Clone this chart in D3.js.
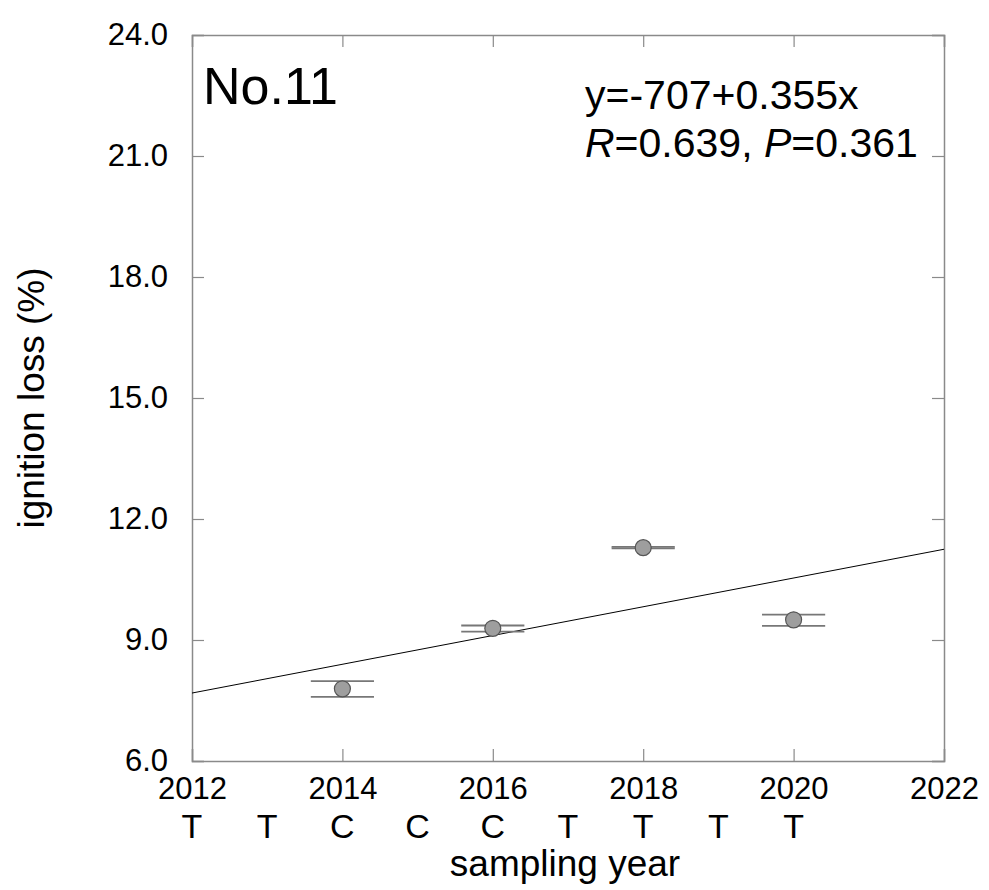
<!DOCTYPE html>
<html>
<head>
<meta charset="utf-8">
<script src="https://cdn.jsdelivr.net/npm/d3@7"></script>
<style>
  body { margin: 0; background: #fff; }
  svg { font-family: "Liberation Sans", Arial, sans-serif; }
</style>
</head>
<body>
<div id="chart"></div>
<script>
// data
var years = [2014, 2016, 2018, 2020];
var means = [7.79, 9.29, 11.29, 9.50];
var upper = [7.98, 9.36, 11.31, 9.63];
var lower = [7.59, 9.21, 11.27, 9.35];

var xTicks = [2012, 2014, 2016, 2018, 2020, 2022];
var yTicks = [6, 9, 12, 15, 18, 21, 24];

var treatYears = [2012, 2013, 2014, 2015, 2016, 2017, 2018, 2019, 2020];
var treatCodes = ["T", "T", "C", "C", "C", "T", "T", "T", "T"];

var panelLabel = "No.11";
var eqText = "y=-707+0.355x";
var rText = "0.639", pText = "0.361";

// set the dimensions and margins of the graph
var margin = {top: 35, right: 45, bottom: 129, left: 192},
    width = 989 - margin.left - margin.right,
    height = 890 - margin.top - margin.bottom;

var svg = d3.select("#chart")
  .append("svg")
  .attr("width", 989)
  .attr("height", 890)
  .append("g")
  .attr("transform", "translate(" + margin.left + "," + margin.top + ")");

var xScale = d3.scaleLinear().domain([2012, 2022]).range([0, width]);
var yScale = d3.scaleLinear().domain([6, 24]).range([height, 0]);

var frameColor = "#8a8a8a";

// axes with inward ticks on all four sides
var axBottom = svg.append("g")
  .attr("transform", "translate(0," + height + ")")
  .call(d3.axisBottom(xScale).tickValues(xTicks).tickSize(-12).tickPadding(16).tickFormat(d3.format("d")));
var axTop = svg.append("g")
  .call(d3.axisTop(xScale).tickValues(xTicks).tickSize(-12).tickFormat(""));
var axLeft = svg.append("g")
  .call(d3.axisLeft(yScale).tickValues(yTicks).tickSize(-12).tickPadding(24).tickFormat(d3.format(".1f")));
var axRight = svg.append("g")
  .attr("transform", "translate(" + width + ",0)")
  .call(d3.axisRight(yScale).tickValues(yTicks).tickSize(-12).tickFormat(""));

[axBottom, axTop, axLeft, axRight].forEach(function(g) {
  g.select(".domain").attr("stroke", frameColor).attr("stroke-width", 1.5);
  g.selectAll(".tick line").attr("stroke", frameColor).attr("stroke-width", 1.2);
  g.selectAll(".tick text").attr("fill", "#000").style("font-size", "31px");
});
axBottom.selectAll(".tick text").attr("dy", "0.71em");

// treatment letters under the axis
svg.selectAll(".code")
  .data(treatYears)
  .enter().append("text")
  .attr("class", "code")
  .attr("x", d => xScale(d))
  .attr("y", height + 77)
  .attr("text-anchor", "middle")
  .style("font-size", "34px")
  .text((d, i) => treatCodes[i]);

// regression line (least squares on the means)
var mx = d3.mean(years), my = d3.mean(means);
var slope = d3.sum(years, (d, i) => (d - mx) * (means[i] - my)) / d3.sum(years, d => (d - mx) * (d - mx));
var intercept = my - slope * mx;
svg.append("path")
  .datum([2012, 2022])
  .attr("fill", "none")
  .attr("stroke", "#000")
  .attr("stroke-width", 1)
  .attr("d", d3.line().x(d => xScale(d)).y(d => yScale(intercept + slope * d)));

// error bars
var capHalf = 0.42;
var pts = years.map((d, i) => ({year: d, mean: means[i], hi: upper[i], lo: lower[i]}));
var bars = svg.selectAll(".err").data(pts).enter().append("g").attr("class", "err");
bars.append("line")
  .attr("x1", d => xScale(d.year)).attr("x2", d => xScale(d.year))
  .attr("y1", d => yScale(d.hi)).attr("y2", d => yScale(d.lo))
  .attr("stroke", "#777").attr("stroke-width", 1.5);
bars.append("line")
  .attr("x1", d => xScale(d.year - capHalf)).attr("x2", d => xScale(d.year + capHalf))
  .attr("y1", d => yScale(d.hi)).attr("y2", d => yScale(d.hi))
  .attr("stroke", "#777").attr("stroke-width", 1.8);
bars.append("line")
  .attr("x1", d => xScale(d.year - capHalf)).attr("x2", d => xScale(d.year + capHalf))
  .attr("y1", d => yScale(d.lo)).attr("y2", d => yScale(d.lo))
  .attr("stroke", "#777").attr("stroke-width", 1.8);

// points
svg.selectAll(".pt")
  .data(pts)
  .enter().append("circle")
  .attr("class", "pt")
  .attr("cx", d => xScale(d.year))
  .attr("cy", d => yScale(d.mean))
  .attr("r", 8)
  .attr("fill", "#9e9e9e")
  .attr("stroke", "#555")
  .attr("stroke-width", 1.2);

// panel label
svg.append("text")
  .attr("x", 11)
  .attr("y", 69)
  .style("font-size", "52px")
  .text(panelLabel);

// regression text
svg.append("text")
  .attr("x", 393)
  .attr("y", 74)
  .style("font-size", "41px")
  .text(eqText);
var stat = svg.append("text")
  .attr("x", 393)
  .attr("y", 122)
  .style("font-size", "41px");
stat.append("tspan").attr("font-style", "italic").text("R");
stat.append("tspan").text("=" + rText + ", ");
stat.append("tspan").attr("font-style", "italic").text("P");
stat.append("tspan").text("=" + pText);

// axis titles
svg.append("text")
  .attr("text-anchor", "middle")
  .attr("x", width / 2 - 3)
  .attr("y", height + 115)
  .style("font-size", "37px")
  .text("sampling year");

svg.append("text")
  .attr("text-anchor", "middle")
  .attr("transform", "translate(" + (-148) + "," + (height / 2) + ") rotate(-90)")
  .style("font-size", "37px")
  .text("ignition loss (%)");
</script>
</body>
</html>
